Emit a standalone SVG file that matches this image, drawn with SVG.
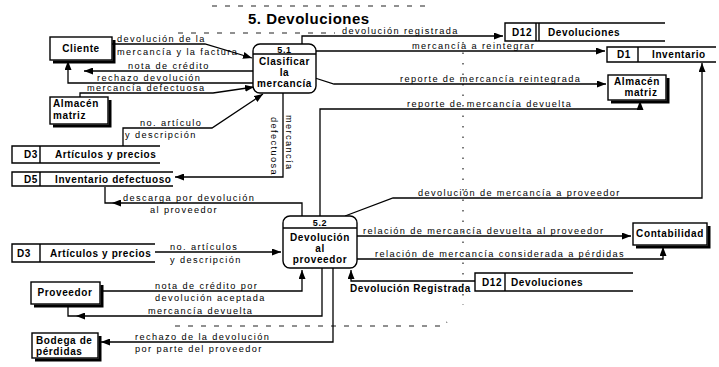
<svg xmlns="http://www.w3.org/2000/svg" width="719" height="367" viewBox="0 0 719 367">
<style>
text{font-family:"Liberation Sans",Arial,sans-serif;fill:#000}
.lbl{font-size:9.2px;letter-spacing:1.4px}
.nt{font-size:10px;font-weight:bold;letter-spacing:0.6px}
.title{font-size:15px;font-weight:bold;letter-spacing:0.5px}
.box{fill:#fff;stroke:#000;stroke-width:1.4}
.sh{fill:none;stroke:#000;stroke-width:3}
.ds{fill:none;stroke:#000;stroke-width:1.4}
.flow{fill:none;stroke:#000;stroke-width:1.3}
.deco{fill:none;stroke:#222;stroke-width:1.2;stroke-dasharray:5 8}
.dot{fill:none;stroke:#222;stroke-width:1.2;stroke-dasharray:1.5 9}
</style>
<defs>
<marker id="arr" viewBox="0 0 9 7" refX="9" refY="3.5" markerWidth="9" markerHeight="7" markerUnits="userSpaceOnUse" orient="auto"><path d="M0,0 L9,3.5 L0,7 z" fill="#000"/></marker>
</defs>
<rect width="719" height="367" fill="#fff"/>

<g id="decoration">
<path class="deco" d="M212,6 H432"/>
<path class="deco" d="M178,33 H335"/>
<path class="deco" d="M175,326 H443 L447,322"/>
<path class="dot" d="M463,42 V305"/>
</g>

<text class="title" x="248" y="24">5. Devoluciones</text>

<g id="connectors">
<path class="flow" d="M112,44 H205 L252,58" marker-end="url(#arr)"/>
<text class="lbl" x="117" y="42">devolución de la</text>
<text class="lbl" x="117" y="55">mercancía y la factura</text>

<path class="flow" d="M253,71 H84" marker-end="url(#arr)"/>
<text class="lbl" x="128" y="69">nota de crédito</text>

<path class="flow" d="M253,83 H68 V61" marker-end="url(#arr)"/>
<text class="lbl" x="97" y="81">rechazo devolución</text>

<path class="flow" d="M80,97 V93 H213 L254,87" marker-end="url(#arr)"/>
<text class="lbl" x="87" y="91">mercancía defectuosa</text>

<path class="flow" d="M123,146 V128 H212 L263,94" marker-end="url(#arr)"/>
<text class="lbl" x="140" y="126">no. artículo</text>
<text class="lbl" x="125" y="138">y descripción</text>

<path class="flow" d="M283,93 V177 H175" marker-end="url(#arr)"/>
<text class="lbl" transform="translate(286,115) rotate(90)">mercancía</text>
<text class="lbl" transform="translate(271,117) rotate(90)">defectuosa</text>

<path class="flow" d="M302,44 V36 H503" marker-end="url(#arr)"/>
<text class="lbl" x="342" y="34">devolución registrada</text>

<path class="flow" d="M316,51 H605" marker-end="url(#arr)"/>
<text class="lbl" x="412" y="49">mercancía a reintegrar</text>

<path class="flow" d="M315,78 L334,84 H606" marker-end="url(#arr)"/>
<text class="lbl" x="400" y="82">reporte de mercancía reintegrada</text>

<path class="flow" d="M320,216 V109 H640 V101" marker-end="url(#arr)"/>
<text class="lbl" x="407" y="107">reporte de mercancía devuelta</text>

<path class="flow" d="M345,216 L393,198 H702 V63" marker-end="url(#arr)"/>
<text class="lbl" x="418" y="196">devolución de mercancía a proveedor</text>

<path class="flow" d="M302,216 V203 H112" marker-end="url(#arr)"/>
<path class="flow" d="M112,203 H105 V187"/>
<text class="lbl" x="123" y="201">descarga por devolución</text>
<text class="lbl" x="150" y="213">al proveedor</text>

<path class="flow" d="M155,252 H281" marker-end="url(#arr)"/>
<text class="lbl" x="170" y="250">no. artículos</text>
<text class="lbl" x="170" y="263">y descripción</text>

<path class="flow" d="M101,291 H302 V270" marker-end="url(#arr)"/>
<text class="lbl" x="155" y="289">nota de crédito por</text>
<text class="lbl" x="155" y="301">devolución aceptada</text>

<path class="flow" d="M322,268 V316 H76" marker-end="url(#arr)"/>
<path class="flow" d="M76,316 H68 V305"/>
<text class="lbl" x="148" y="314">mercancía devuelta</text>

<path class="flow" d="M333,268 V342 H101" marker-end="url(#arr)"/>
<text class="lbl" x="135" y="340">rechazo de la devolución</text>
<text class="lbl" x="135" y="352">por parte del proveedor</text>

<path class="flow" d="M475,281 H351 V270" marker-end="url(#arr)"/>
<text class="nt" x="350" y="292">Devolución Registrada</text>

<path class="flow" d="M357,236 H631" marker-end="url(#arr)"/>
<text class="lbl" x="363" y="234">relación de mercancía devuelta al proveedor</text>

<path class="flow" d="M357,259 H663 V247" marker-end="url(#arr)"/>
<text class="lbl" x="375" y="257">relación de mercancía considerada a pérdidas</text>
</g>

<g id="cliente">
<path class="sh" d="M114,40 V62 H53"/>
<rect class="box" x="50" y="37" width="62" height="23"/>
<text class="nt" x="81" y="52" text-anchor="middle">Cliente</text>
</g>

<g id="almacen-matriz-1">
<path class="sh" d="M110,100 V126 H53"/>
<rect class="box" x="50" y="97" width="58" height="27"/>
<text class="nt" x="53" y="107">Almacén</text>
<text class="nt" x="53" y="119">matriz</text>
</g>

<g id="almacen-matriz-2">
<path class="sh" d="M668,78 V102 H611"/>
<rect class="box" x="608" y="75" width="58" height="25"/>
<text class="nt" x="637" y="85" text-anchor="middle">Almacén</text>
<text class="nt" x="641" y="96" text-anchor="middle">matriz</text>
</g>

<g id="proveedor">
<path class="sh" d="M102,285 V306 H34"/>
<rect class="box" x="31" y="282" width="69" height="22"/>
<text class="nt" x="65" y="296" text-anchor="middle">Proveedor</text>
</g>

<g id="bodega-perdidas">
<path class="sh" d="M100,336 V360 H35"/>
<rect class="box" x="32" y="333" width="66" height="25"/>
<text class="nt" x="36" y="344">Bodega de</text>
<text class="nt" x="36" y="355">pérdidas</text>
</g>

<g id="contabilidad">
<path class="sh" d="M709,226 V247 H636"/>
<rect class="box" x="633" y="223" width="74" height="22"/>
<text class="nt" x="670" y="237" text-anchor="middle">Contabilidad</text>
</g>

<g id="p5-1">
<rect class="box" x="253" y="44" width="63" height="49" rx="7"/>
<path class="ds" d="M253,54 H316"/>
<text class="nt" x="284.5" y="52.5" text-anchor="middle" style="font-size:9px">5.1</text>
<text class="nt" x="284.5" y="65" text-anchor="middle">Clasificar</text>
<text class="nt" x="284.5" y="76" text-anchor="middle">la</text>
<text class="nt" x="284.5" y="87" text-anchor="middle">mercancía</text>
</g>

<g id="p5-2">
<rect class="box" x="283" y="216" width="74" height="52" rx="7"/>
<path class="ds" d="M283,228 H357"/>
<text class="nt" x="320" y="226" text-anchor="middle" style="font-size:9px">5.2</text>
<text class="nt" x="320" y="241" text-anchor="middle">Devolución</text>
<text class="nt" x="320" y="252" text-anchor="middle">al</text>
<text class="nt" x="320" y="263" text-anchor="middle">proveedor</text>
</g>

<g id="d12-a">
<path class="ds" d="M665,23 H505 V41 H665 M536,23 V41 M539,23 V41"/>
<text class="nt" x="512" y="36">D12</text>
<text class="nt" x="548" y="36">Devoluciones</text>
</g>

<g id="d1">
<path class="ds" d="M716,47 H607 V62 H716 M638,47 V62"/>
<text class="nt" x="617" y="58">D1</text>
<text class="nt" x="652" y="58">Inventario</text>
</g>

<g id="d3-a">
<path class="ds" d="M160,146 H12 V163 H160 M40,146 V163"/>
<text class="nt" x="24" y="158">D3</text>
<text class="nt" x="55" y="158">Artículos y precios</text>
</g>

<g id="d5">
<path class="ds" d="M173,172 H12 V186 H173 M40,172 V186"/>
<text class="nt" x="24" y="183">D5</text>
<text class="nt" x="55" y="183">Inventario defectuoso</text>
</g>

<g id="d3-b">
<path class="ds" d="M155,244 H12 V262 H155 M40,244 V262"/>
<text class="nt" x="17" y="257">D3</text>
<text class="nt" x="50" y="257">Artículos y precios</text>
</g>

<g id="d12-b">
<path class="ds" d="M633,273 H475 V291 H633 M505,273 V291"/>
<text class="nt" x="482" y="286">D12</text>
<text class="nt" x="511" y="286">Devoluciones</text>
</g>
</svg>
